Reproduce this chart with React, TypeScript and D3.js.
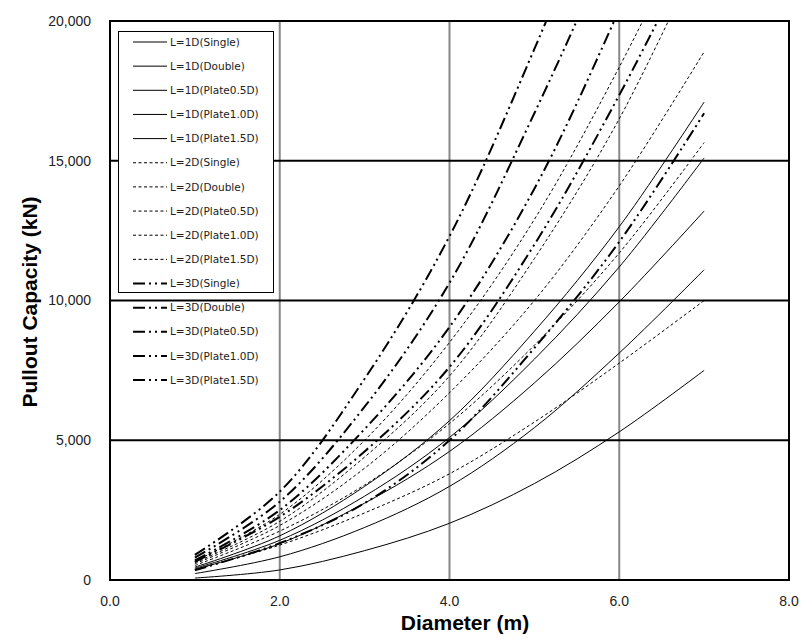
import { useRef, useEffect } from "react";
import * as d3 from "d3";

// diameter (m)
const diameters = [1, 2, 3, 4, 5, 6, 7];

// pullout capacity (kN), L=1D
const l1Single = [70, 360, 1050, 2030, 3450, 5300, 7500];
const l1Double = [230, 830, 1880, 3350, 5450, 8120, 11100];
const l1Plate05 = [380, 1300, 2750, 4600, 7050, 9950, 13200];
const l1Plate10 = [420, 1420, 3000, 5100, 7900, 11200, 15100];
const l1Plate15 = [460, 1580, 3350, 5700, 8900, 12640, 17100];
// L=2D
const l2Single = [380, 1250, 2400, 3800, 5650, 7760, 10000];
const l2Double = [520, 1750, 3400, 5600, 8400, 11700, 15650];
const l2Plate05 = [580, 1950, 4000, 6700, 10000, 14100, 18900];
const l2Plate10 = [620, 2100, 4400, 7300, 11500, 16500, 22700];
const l2Plate15 = [670, 2350, 5000, 8500, 12900, 18350, 24500];
// L=3D
const l3Single = [350, 1320, 2750, 5000, 8300, 12100, 16700];
const l3Double = [650, 2260, 4600, 7620, 12000, 17350, 23300];
const l3Plate05 = [700, 2500, 5400, 9050, 14000, 20400, 27500];
const l3Plate10 = [800, 2800, 6200, 10630, 16700, 23500, 31000];
const l3Plate15 = [900, 3160, 7200, 12300, 19000, 26500, 35000];

const seriesNames = [
  "L=1D(Single)", "L=1D(Double)", "L=1D(Plate0.5D)", "L=1D(Plate1.0D)", "L=1D(Plate1.5D)",
  "L=2D(Single)", "L=2D(Double)", "L=2D(Plate0.5D)", "L=2D(Plate1.0D)", "L=2D(Plate1.5D)",
  "L=3D(Single)", "L=3D(Double)", "L=3D(Plate0.5D)", "L=3D(Plate1.0D)", "L=3D(Plate1.5D)",
];
const seriesValues = [
  l1Single, l1Double, l1Plate05, l1Plate10, l1Plate15,
  l2Single, l2Double, l2Plate05, l2Plate10, l2Plate15,
  l3Single, l3Double, l3Plate05, l3Plate10, l3Plate15,
];

const xTicks = [0, 2, 4, 6, 8];
const yTicks = [0, 5000, 10000, 15000, 20000];

const App = () => {
  const svgRef = useRef<SVGSVGElement>(null);

  useEffect(() => {
    const width = 812;
    const height = 639;
    const left = 110, right = 789, top = 21, bottom = 580;

    const svg = d3.select(svgRef.current)
      .attr("width", width)
      .attr("height", height)
      .style("position", "absolute")
      .style("left", 0)
      .style("top", 0)
      .style("background", "#fff");
    svg.selectAll("*").remove();

    const x = d3.scaleLinear().domain([0, 8]).range([left, right]);
    const y = d3.scaleLinear().domain([0, 20000]).range([bottom, top]);

    // style per L group
    const styleOf = (i: number) => {
      if (i < 5) return { w: 1, dash: null };
      if (i < 10) return { w: 1, dash: "3,2.5" };
      return { w: 2, dash: "12,4,2,4,2,4" };
    };

    // clip
    svg.append("defs").append("clipPath").attr("id", "plot")
      .append("rect").attr("x", left).attr("y", top)
      .attr("width", right - left).attr("height", bottom - top);

    // vertical gridlines (gray)
    svg.append("g").selectAll("line")
      .data(xTicks.filter((d) => d > 0 && d < 8))
      .join("line")
      .attr("x1", (d) => x(d)).attr("x2", (d) => x(d))
      .attr("y1", top).attr("y2", bottom)
      .attr("stroke", "#888").attr("stroke-width", 2);

    // horizontal gridlines (black)
    svg.append("g").selectAll("line")
      .data(yTicks.filter((d) => d > 0 && d < 20000))
      .join("line")
      .attr("x1", left).attr("x2", right)
      .attr("y1", (d) => y(d)).attr("y2", (d) => y(d))
      .attr("stroke", "#000").attr("stroke-width", 2);

    // plot frame
    svg.append("rect")
      .attr("x", left).attr("y", top)
      .attr("width", right - left).attr("height", bottom - top)
      .attr("fill", "none").attr("stroke", "#000").attr("stroke-width", 2);

    // series
    const line = d3.line<number>()
      .x((d, i) => x(diameters[i]))
      .y((d) => y(d))
      .curve(d3.curveCatmullRom.alpha(0.5));

    svg.append("g").attr("clip-path", "url(#plot)")
      .selectAll("path")
      .data(seriesValues)
      .join("path")
      .attr("d", (d) => line(d))
      .attr("fill", "none")
      .attr("stroke", "#000")
      .attr("stroke-width", (d, i) => styleOf(i).w)
      .attr("stroke-dasharray", (d, i) => styleOf(i).dash);

    // tick labels
    const fmt = d3.format(",");
    svg.append("g").selectAll("text")
      .data(yTicks)
      .join("text")
      .attr("x", left - 19)
      .attr("y", (d) => y(d))
      .attr("dy", "0.35em")
      .attr("text-anchor", "end")
      .attr("font-family", "'Liberation Sans', Arial, sans-serif")
      .attr("font-size", 14)
      .attr("fill", "#222")
      .text((d) => fmt(d));

    svg.append("g").selectAll("text")
      .data(xTicks)
      .join("text")
      .attr("x", (d) => x(d))
      .attr("y", bottom + 26)
      .attr("text-anchor", "middle")
      .attr("font-family", "'Liberation Sans', Arial, sans-serif")
      .attr("font-size", 14)
      .attr("fill", "#222")
      .text((d) => d3.format(".1f")(d));

    // axis titles
    svg.append("text")
      .attr("x", 465).attr("y", 630)
      .attr("text-anchor", "middle")
      .attr("font-family", "'Liberation Sans', Arial, sans-serif")
      .attr("font-weight", "bold")
      .attr("font-size", 21)
      .text("Diameter (m)");

    svg.append("text")
      .attr("transform", "translate(37,302) rotate(-90)")
      .attr("text-anchor", "middle")
      .attr("font-family", "'Liberation Sans', Arial, sans-serif")
      .attr("font-weight", "bold")
      .attr("font-size", 21)
      .text("Pullout Capacity (kN)");

    // legend
    const lg = svg.append("g");
    lg.append("rect")
      .attr("x", 118.5).attr("y", 31.5)
      .attr("width", 155).attr("height", 261)
      .attr("fill", "#fff").attr("stroke", "#000").attr("stroke-width", 1);
    const items = lg.selectAll("g.item")
      .data(seriesNames)
      .join("g")
      .attr("class", "item")
      .attr("transform", (d, i) => `translate(0,${42 + i * 24.15})`);
    items.append("line")
      .attr("x1", 133).attr("x2", 167)
      .attr("stroke", "#000")
      .attr("stroke-width", (d, i) => styleOf(i).w)
      .attr("stroke-dasharray", (d, i) => styleOf(i).dash);
    items.append("text")
      .attr("x", 170)
      .attr("dy", "0.35em")
      .attr("font-family", "'DejaVu Sans', sans-serif")
      .attr("font-size", 10.5)
      .attr("fill", "#222")
      .text((d) => d);
  }, []);

  return <svg ref={svgRef}></svg>;
};

export default App;
